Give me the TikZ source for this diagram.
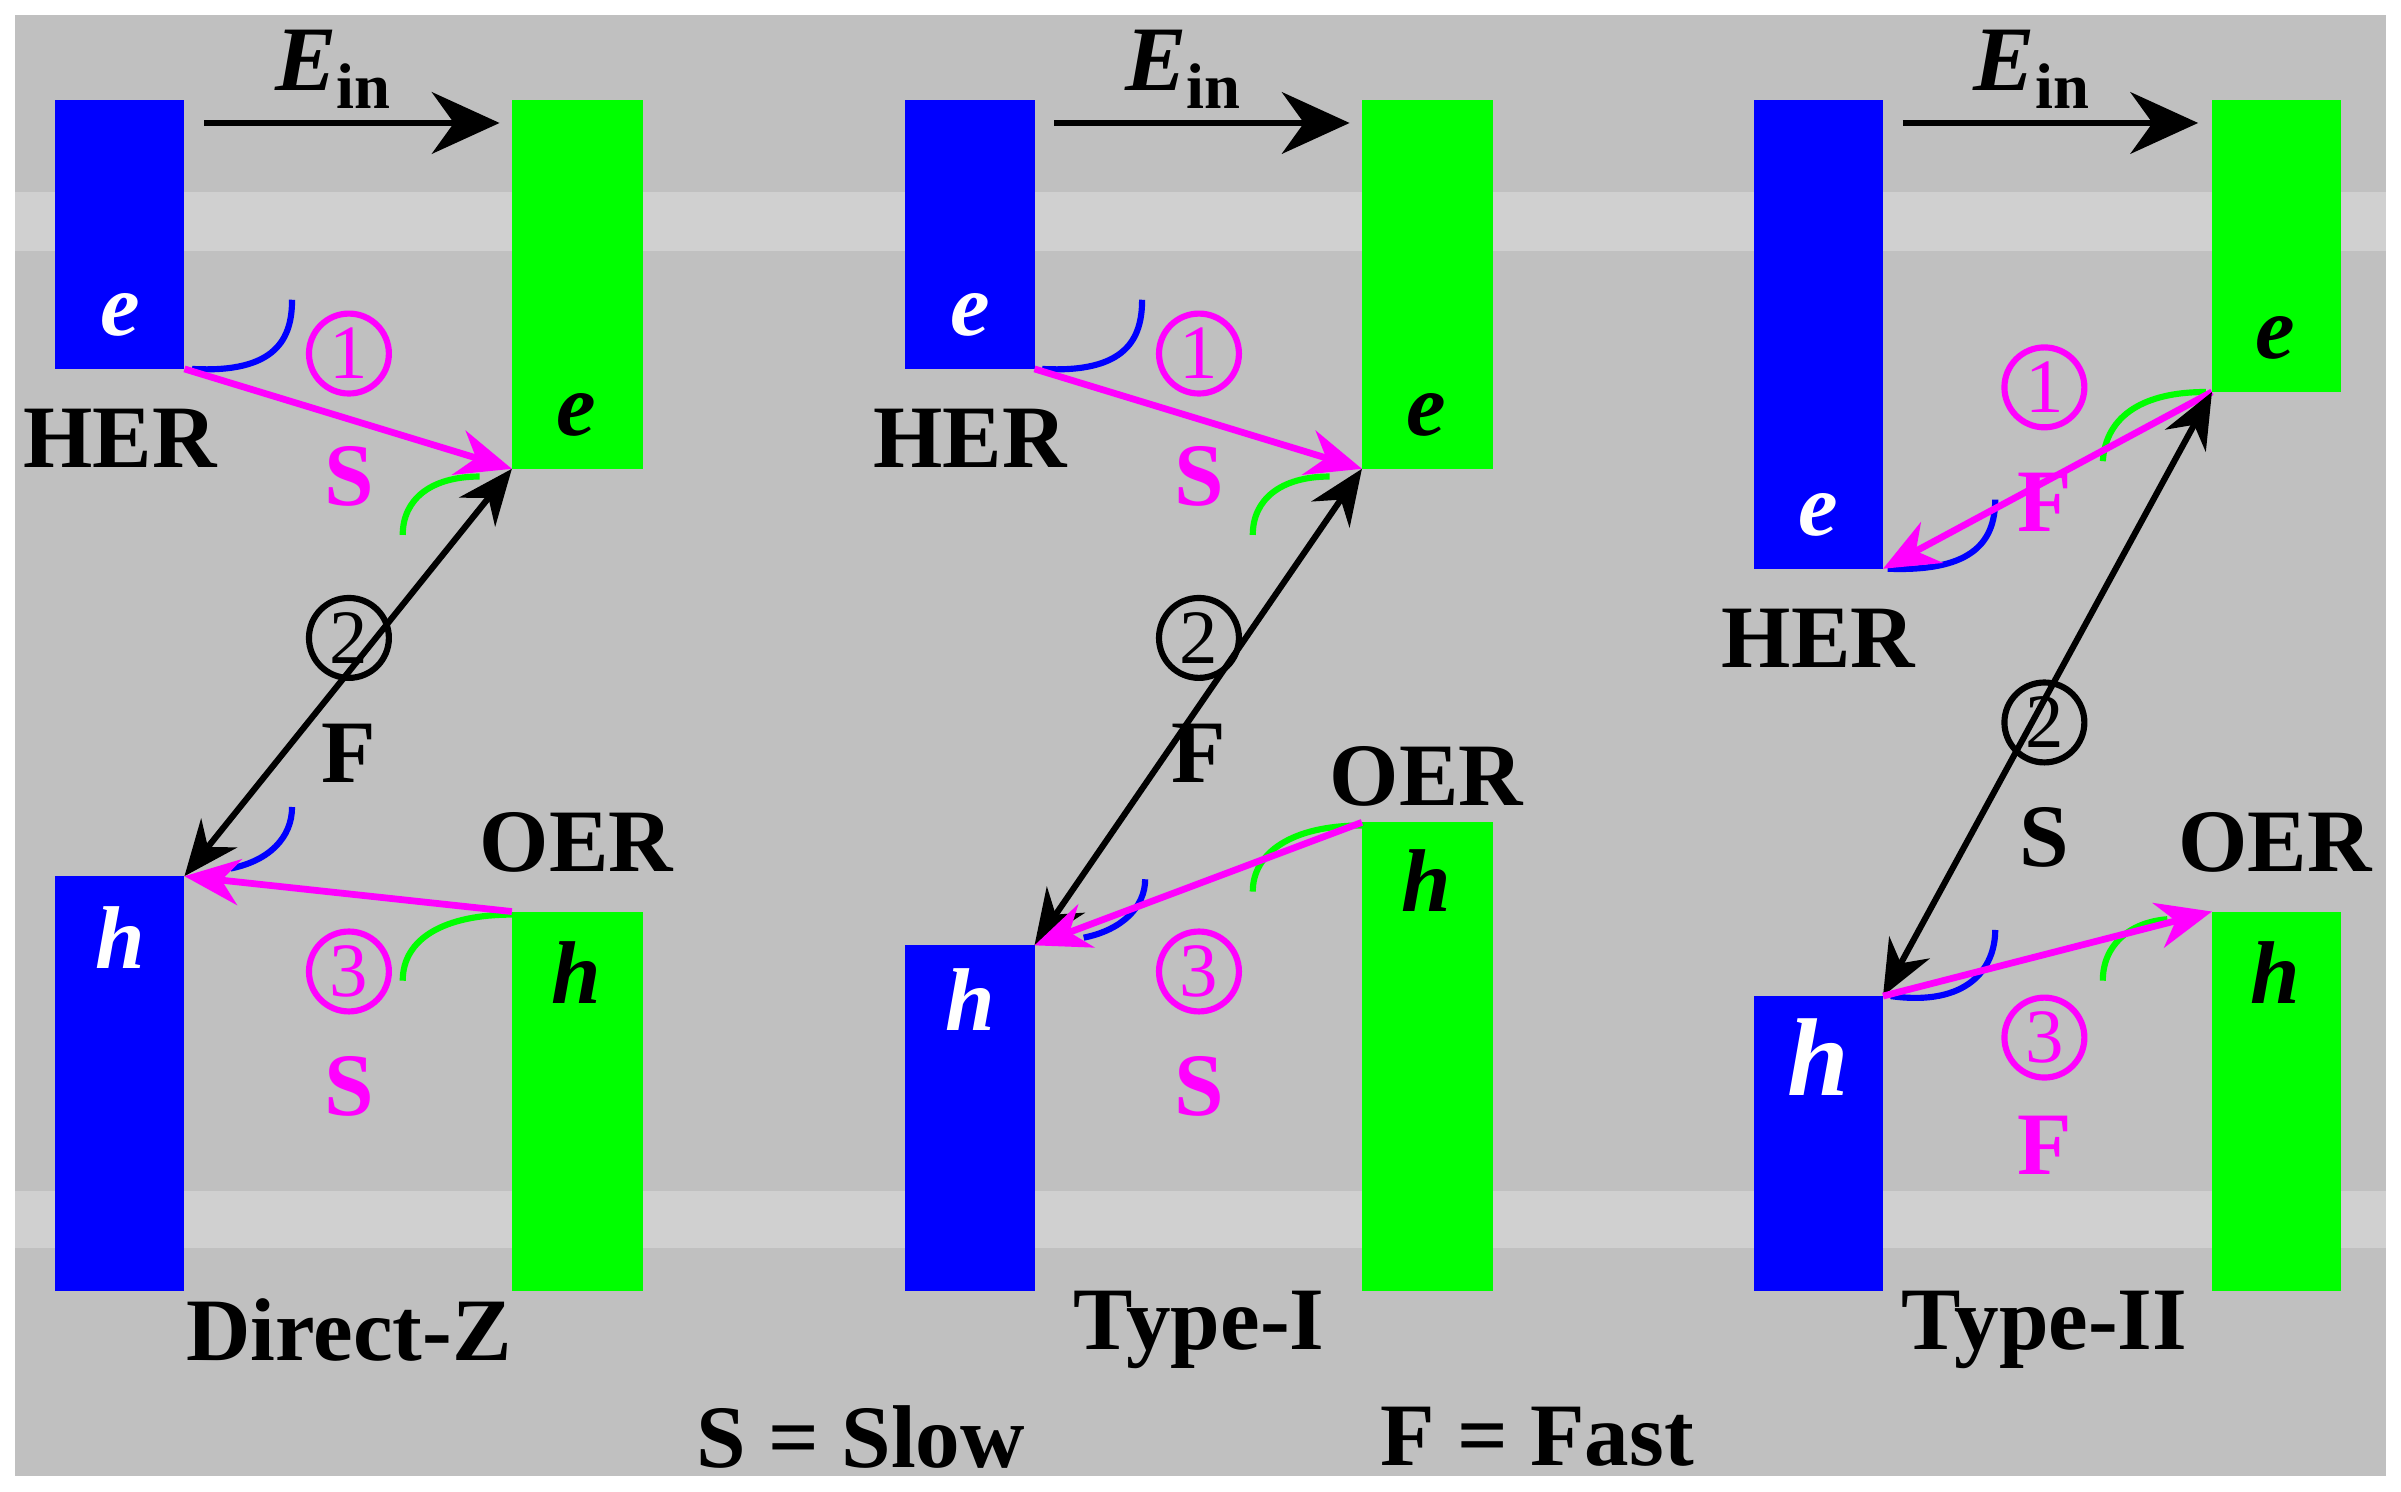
\documentclass[tikz,border=0pt]{standalone}
\usepackage{fontspec}
\setmainfont{Liberation Serif}
\usetikzlibrary{arrows.meta}
\definecolor{bg}{HTML}{C0C0C0}
\definecolor{band}{HTML}{D0D0D0}
\definecolor{bl}{HTML}{0000FF}
\definecolor{gr}{HTML}{00FF00}
\definecolor{mg}{HTML}{FF00FF}
\newcommand{\ein}{\textit{E}\textsubscript{\upshape in}}
\begin{document}
\begin{tikzpicture}[x=0.5pt,y=-0.5pt,
 lab/.style={font=\fontsize{29}{29}\selectfont\bfseries},
 carr/.style={font=\fontsize{29}{29}\selectfont\bfseries\itshape},
 ein/.style={font=\fontsize{30}{30}\selectfont\bfseries},
 num/.style={circle,draw,line width=2pt,inner sep=0pt,minimum size=26pt,font=\fontsize{25}{25}\selectfont},
 marr/.style={mg,line width=2.2pt,-{Stealth[length=18pt,width=15pt]}},
 karr/.style={black,line width=2pt,{Stealth[length=18pt,width=15pt]}-{Stealth[length=18pt,width=15pt]}},
 earr/.style={black,line width=2.2pt,-{Stealth[length=22pt,width=20pt]}},
 arc/.style={line width=2pt}]
\useasboundingbox (0,0) rectangle (1562,970);
\fill[white] (0,0) rectangle (1562,970);
\fill[bg] (10,10) rectangle (1552,960);
\fill[band] (10,125) rectangle (1552,163);
\fill[band] (10,775) rectangle (1552,812);
% Panel 1
\fill[bl] (36,65) rectangle (120,240);
\fill[bl] (36,570) rectangle (120,840);
\fill[gr] (333,65) rectangle (418,305);
\fill[gr] (333,593) rectangle (418,840);
\coordinate (a1e) at (120,240); \coordinate (a1g) at (333,305);
\coordinate (a1h) at (120,570); \coordinate (a1o) at (333,593);
\coordinate (a1s) at (133,80); \coordinate (a1t) at (325,80);
\draw[earr] (a1s) -- (a1t);
\node[ein] (a1ein) at (217,45) {\ein};
\node[carr,white] (a1ev) at (78,205) {e};
\node[lab] (a1her) at (78,285) {HER};
\node[carr] (a1eg) at (375,270) {e};
\node[carr,white] (a1hv) at (78,610) {h};
\node[carr] (a1hg) at (375,633) {h};
\node[lab] (a1oer) at (375,548) {OER};
\draw[bl,arc] (125,240) .. controls (180,243) and (190,220) .. (190,195);
\draw[gr,arc] (262,348) .. controls (262,325) and (280,310) .. (312,310);
\draw[bl,arc] (150,565) .. controls (175,560) and (190,545) .. (190,525);
\draw[gr,arc] (262,638) .. controls (262,610) and (290,595) .. (333,595);
\draw[marr] (a1e) -- (a1g);
\draw[karr] (a1h) -- (a1g);
\draw[marr] (a1o) -- (a1h);
\node[num,mg] (a1n1) at (227,230) {1};
\node[lab,mg] (a1s1) at (227,310) {S};
\node[num] (a1n2) at (227,415) {2};
\node[lab] (a1f2) at (227,490) {F};
\node[num,mg] (a1n3) at (227,632) {3};
\node[lab,mg] (a1s3) at (227,707) {S};
\node[lab] (a1name) at (227,865) {Direct-Z};
% Panel 2
\fill[bl] (589,65) rectangle (673,240);
\fill[bl] (589,615) rectangle (673,840);
\fill[gr] (886,65) rectangle (971,305);
\fill[gr] (886,535) rectangle (971,840);
\coordinate (b1e) at (673,240); \coordinate (b1g) at (886,305);
\coordinate (b1h) at (673,615); \coordinate (b1o) at (886,535);
\coordinate (b1s) at (686,80); \coordinate (b1t) at (878,80);
\draw[earr] (b1s) -- (b1t);
\node[ein] (b1ein) at (770,45) {\ein};
\node[carr,white] (b1ev) at (631,205) {e};
\node[lab] (b1her) at (631,285) {HER};
\node[carr] (b1eg) at (928,270) {e};
\node[carr,white] (b1hv) at (631,650) {h};
\node[carr] (b1hg) at (928,573) {h};
\node[lab] (b1oer) at (928,505) {OER};
\draw[bl,arc] (678,240) .. controls (733,243) and (743,220) .. (743,195);
\draw[gr,arc] (815,348) .. controls (815,325) and (833,310) .. (865,310);
\draw[bl,arc] (705,610) .. controls (730,605) and (745,590) .. (745,572);
\draw[gr,arc] (815,580) .. controls (815,555) and (840,537) .. (886,537);
\draw[marr] (b1e) -- (b1g);
\draw[karr] (b1h) -- (b1g);
\draw[marr] (b1o) -- (b1h);
\node[num,mg] (b1n1) at (780,230) {1};
\node[lab,mg] (b1s1) at (780,310) {S};
\node[num] (b1n2) at (780,415) {2};
\node[lab] (b1f2) at (780,490) {F};
\node[num,mg] (b1n3) at (780,632) {3};
\node[lab,mg] (b1s3) at (780,707) {S};
\node[lab] (b1name) at (780,865) {Type-I};
% Panel 3
\fill[bl] (1141,65) rectangle (1225,370);
\fill[bl] (1141,648) rectangle (1225,840);
\fill[gr] (1439,65) rectangle (1523,255);
\fill[gr] (1439,593) rectangle (1523,840);
\coordinate (c1e) at (1225,370); \coordinate (c1g) at (1439,255);
\coordinate (c1h) at (1225,648); \coordinate (c1o) at (1439,593);
\coordinate (c1s) at (1238,80); \coordinate (c1t) at (1430,80);
\draw[earr] (c1s) -- (c1t);
\node[ein] (c1ein) at (1322,45) {\ein};
\node[carr,white] (c1ev) at (1183,335) {e};
\node[lab] (c1her) at (1183,415) {HER};
\node[carr] (c1eg) at (1480,220) {e};
\node[carr,white,font=\fontsize{36}{36}\selectfont\bfseries\itshape] (c1hv) at (1183,688) {h};
\node[carr] (c1hg) at (1480,633) {h};
\node[lab] (c1oer) at (1480,548) {OER};
\draw[bl,arc] (1228,370) .. controls (1280,372) and (1298,355) .. (1298,325);
\draw[gr,arc] (1368,300) .. controls (1370,270) and (1395,255) .. (1435,255);
\draw[bl,arc] (1230,648) .. controls (1280,655) and (1298,630) .. (1298,605);
\draw[gr,arc] (1368,638) .. controls (1368,615) and (1385,600) .. (1410,598);
\draw[marr] (c1g) -- (c1e);
\draw[karr] (c1h) -- (c1g);
\draw[marr] (c1h) -- (c1o);
\node[num,mg] (c1n1) at (1330,252) {1};
\node[lab,mg] (c1f1) at (1330,327) {F};
\node[num] (c1n2) at (1330,470) {2};
\node[lab] (c1s2) at (1330,545) {S};
\node[num,mg] (c1n3) at (1330,675) {3};
\node[lab,mg] (c1f3) at (1330,745) {F};
\node[lab] (c1name) at (1330,865) {Type-II};
\node[lab] (slow) at (560,935) {S = Slow};
\node[lab] (fast) at (1000,935) {F = Fast};
\end{tikzpicture}
\end{document}
